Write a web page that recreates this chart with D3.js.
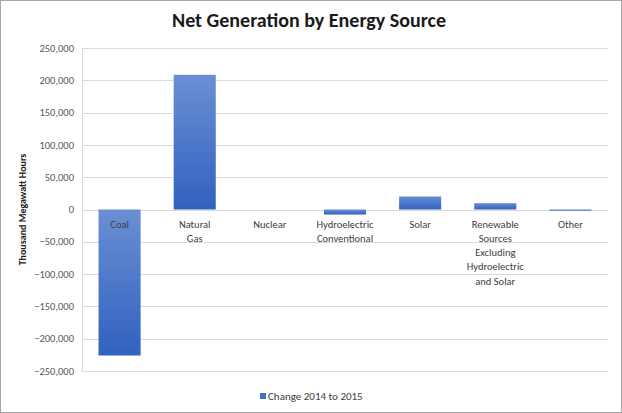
<!DOCTYPE html>
<html><head><meta charset="utf-8">
<script src="https://cdn.jsdelivr.net/npm/d3@7"></script>
<style>
html,body{margin:0;padding:0;background:#fff;}
svg{display:block;font-family:Carlito,"Open Sans","Liberation Sans",sans-serif;}
</style></head>
<body>
<script>
const categories = [["Coal"],["Natural","Gas"],["Nuclear"],["Hydroelectric","Conventional"],["Solar"],["Renewable","Sources","Excluding","Hydroelectric","and Solar"],["Other"]];
const values = [-226000, 208500, 0, -7800, 20200, 9800, -1800];
const yTicks = [-250000,-200000,-150000,-100000,-50000,0,50000,100000,150000,200000,250000];
const seriesName = "Change 2014 to 2015";
const title = "Net Generation by Energy Source";
const yTitle = "Thousand Megawatt Hours";

const W = 622, H = 413;
const m = {left: 82, right: 14, top: 48, bottom: 42};
const svg = d3.select("body").append("svg").attr("width", W).attr("height", H);

svg.append("rect").attr("x",0.5).attr("y",0.5).attr("width",W-1).attr("height",H-1)
  .attr("fill","#fff").attr("stroke","#a6a6a6");

const defs = svg.append("defs");
const g1 = defs.append("linearGradient").attr("id","barGrad").attr("x1",0).attr("y1",0).attr("x2",0).attr("y2",1);
g1.append("stop").attr("offset","0%").attr("stop-color","#6a8fd3");
g1.append("stop").attr("offset","100%").attr("stop-color","#3161c0");

const x = d3.scaleBand().domain(d3.range(categories.length)).range([m.left, W - m.right]).paddingInner(0.44).paddingOuter(0.22);
const y = d3.scaleLinear().domain([-250000, 250000]).range([H - m.bottom, m.top]);

// grid
svg.append("g").selectAll("line").data(yTicks).join("line")
  .attr("x1", m.left).attr("x2", W - m.right)
  .attr("y1", d => Math.round(y(d)) + 0.5).attr("y2", d => Math.round(y(d)) + 0.5)
  .attr("stroke", "#d9d9d9").attr("stroke-width", 1);
svg.append("line").attr("x1", m.left + 0.5).attr("x2", m.left + 0.5)
  .attr("y1", y(250000)).attr("y2", y(-250000)).attr("stroke", "#d9d9d9");

// y labels
const fmt = d3.format(",");
svg.append("g").selectAll("text").data(yTicks).join("text")
  .attr("x", 74).attr("y", d => y(d)).attr("dy", "0.35em")
  .attr("text-anchor", "end").attr("font-size", 10.5).attr("fill", "#595959")
  .text(d => fmt(d));

// bars
svg.append("g").selectAll("rect").data(values).join("rect")
  .attr("x", (d, i) => x(i)).attr("width", x.bandwidth())
  .attr("y", d => y(Math.max(0, d))).attr("height", d => Math.abs(y(d) - y(0)))
  .attr("fill", "url(#barGrad)");

// category labels
const cl = svg.append("g").selectAll("text").data(categories).join("text")
  .attr("x", (d, i) => x(i) + x.bandwidth() / 2).attr("y", y(0) + 18)
  .attr("text-anchor", "middle").attr("font-size", 10.5).attr("fill", "#404040");
cl.selectAll("tspan").data(d => d).join("tspan")
  .attr("x", function(){ return d3.select(this.parentNode).attr("x"); })
  .attr("dy", (d, i) => i === 0 ? 0 : 14.3).text(d => d);

// title
svg.append("text").attr("x", 309).attr("y", 27).attr("text-anchor", "middle")
  .attr("font-size", 20).attr("font-weight", "bold").attr("fill", "#1a1a1a").text(title);

// y title
svg.append("text").attr("transform", `translate(26,${y(0)}) rotate(-90)`)
  .attr("text-anchor", "middle").attr("font-size", 10).attr("font-weight", "bold").attr("fill", "#1a1a1a").text(yTitle);

// legend
const lg = svg.append("g").attr("transform", "translate(260,393)");
lg.append("rect").attr("width", 6).attr("height", 6).attr("fill", "#4472c4");
lg.append("text").attr("x", 8).attr("y", 3.5).attr("dy", "0.35em").attr("font-size", 11).attr("fill", "#404040").text(seriesName);
</script>
</body></html>
